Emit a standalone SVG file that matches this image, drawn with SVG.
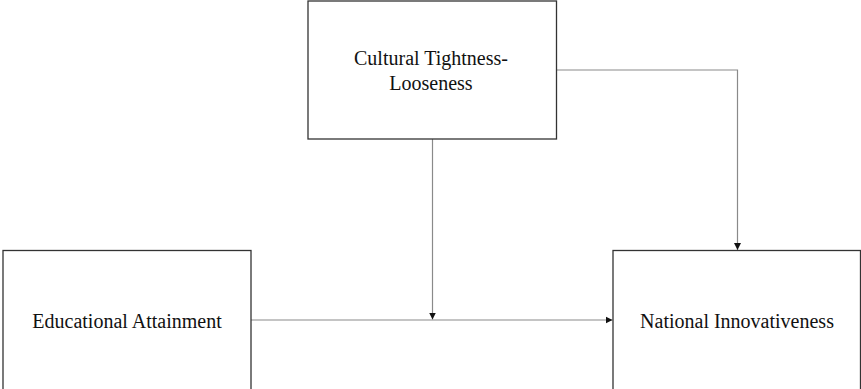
<svg xmlns="http://www.w3.org/2000/svg" width="861" height="389" viewBox="0 0 861 389">
<style>
.box{fill:#fff;stroke:#333;stroke-width:1.3}
.lbl{font-family:"Liberation Serif","Times New Roman",serif;font-size:20px;fill:#111;text-anchor:middle}
.con{fill:none;stroke:#8a8a8a;stroke-width:1.2}
</style>
<defs>
<marker id="ah" markerWidth="8" markerHeight="8" refX="7" refY="4" orient="auto" markerUnits="userSpaceOnUse">
<path d="M0,0.5 L7,4 L0,7.5 Z" fill="#111"/>
</marker>
</defs>
<rect width="861" height="389" fill="#fff"/>
<g id="connectors">
<path class="con" d="M556.5,70 H737.5 V250" marker-end="url(#ah)"/>
<path class="con" d="M432.5,139 V319.5" marker-end="url(#ah)"/>
<path class="con" d="M251,320 H612.5" marker-end="url(#ah)"/>
</g>
<g id="cultural">
<rect class="box" x="308" y="1" width="248.5" height="138"/>
<text class="lbl" x="431" y="65">Cultural Tightness-</text>
<text class="lbl" x="431" y="90">Looseness</text>
</g>
<g id="education">
<rect class="box" x="3" y="250.5" width="248" height="140"/>
<text class="lbl" x="127" y="328">Educational Attainment</text>
</g>
<g id="innovation">
<rect class="box" x="613" y="250.5" width="247.5" height="140"/>
<text class="lbl" x="737" y="328">National Innovativeness</text>
</g>
</svg>
